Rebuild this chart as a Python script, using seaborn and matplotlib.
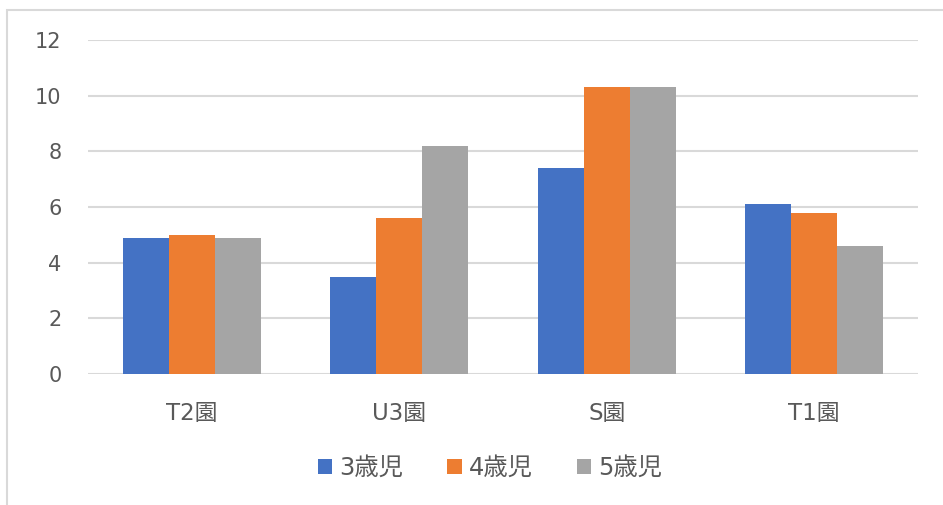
import matplotlib
matplotlib.use("Agg")
import matplotlib.pyplot as plt
import seaborn as sns
import pandas as pd
from matplotlib.patches import Rectangle

# Data
schools = ["T2園", "U3園", "S園", "T1園"]
age_groups = ["3歳児", "4歳児", "5歳児"]
age3 = [4.9, 3.5, 7.4, 6.1]
age4 = [5.0, 5.6, 10.3, 5.8]
age5 = [4.9, 8.2, 10.3, 4.6]
y_ticks = [0, 2, 4, 6, 8, 10, 12]

colors = ["#4472C4", "#ED7D31", "#A5A5A5"]

rows = []
for grp, vals in zip(age_groups, [age3, age4, age5]):
    for s, v in zip(schools, vals):
        rows.append({"園": s, "年齢": grp, "値": v})
df = pd.DataFrame(rows)

sns.set_theme(style="white")
plt.rcParams["font.family"] = ["DejaVu Sans", "Noto Sans CJK JP"]

W, H = 943, 505
fig = plt.figure(figsize=(W / 100, H / 100), dpi=100)
fig.patch.set_facecolor("white")

# outer chart frame (top and left edges visible)
fig.add_artist(Rectangle((7 / W, -0.2), 1.2, 1.2 - 10 / H,
                         transform=fig.transFigure, fill=False,
                         edgecolor="#D9D9D9", linewidth=1.5))

left, right = 88 / W, 918 / W
bottom, top = 1 - 374 / H, 1 - 40 / H
ax = fig.add_axes([left, bottom, right - left, top - bottom])

sns.barplot(data=df, x="園", y="値", hue="年齢", order=schools,
            hue_order=age_groups, palette=colors, width=0.667,
            saturation=1, ax=ax, errorbar=None, linewidth=0)

ax.set_ylim(0, 12)
ax.set_yticks(y_ticks)
ax.set_yticklabels([str(t) for t in y_ticks])
ax.set_xlim(-0.5, 3.5)
ax.set_xlabel("")
ax.set_ylabel("")
ax.yaxis.grid(True, color="#D9D9D9", linewidth=1.5)
ax.set_axisbelow(True)
for sp in ax.spines.values():
    sp.set_visible(False)
ax.tick_params(axis="both", length=0, labelcolor="#595959")
ax.tick_params(axis="y", labelsize=15, pad=19)
ax.tick_params(axis="x", labelsize=16.5, pad=20)

handles, labels = ax.get_legend_handles_labels()
ax.legend(handles, labels, loc="center", bbox_to_anchor=(490 / W, 1 - 468 / H),
          bbox_transform=fig.transFigure, ncol=3, frameon=False,
          fontsize=17.5, labelcolor="#595959", handlelength=0.6,
          handleheight=0.55, handletextpad=0.3, columnspacing=1.8)

fig.savefig("out.png", dpi=100)
